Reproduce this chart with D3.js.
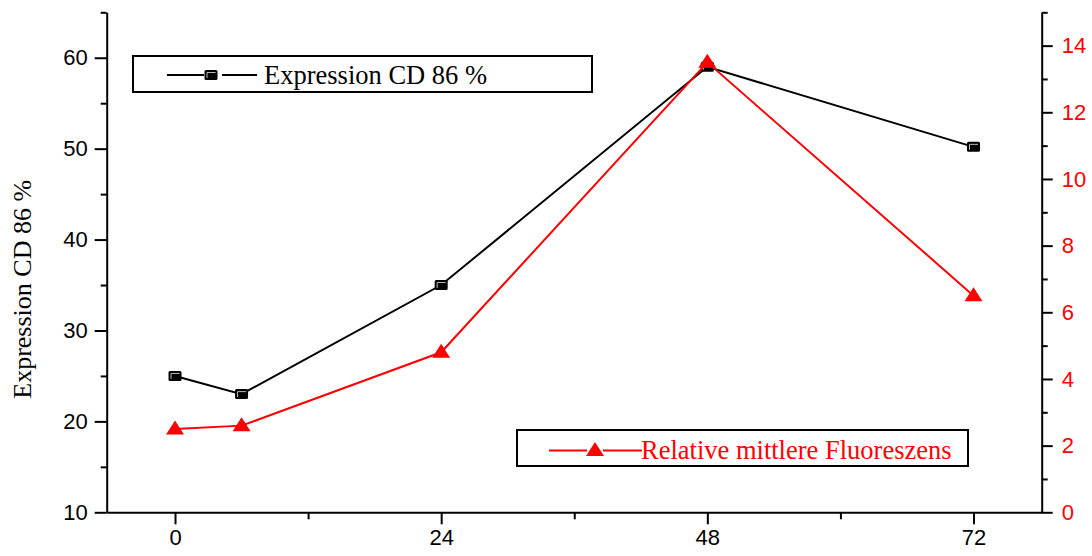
<!DOCTYPE html>
<html>
<head>
<meta charset="utf-8">
<script src="https://cdn.jsdelivr.net/npm/d3@7"></script>
<style>
  html, body { margin: 0; padding: 0; background: #fff; }
  svg { display: block; }
</style>
</head>
<body>
<svg id="chart" width="1092" height="556"></svg>
<script>
// Time points (h)
const hours = [0, 6, 24, 48, 72];
// CD 86 expression (%), left axis
const cd86 = [25.0, 23.0, 35.0, 59.0, 50.2];
// Relative mean fluorescence, right axis
const fluor = [2.5, 2.6, 4.8, 13.5, 6.5];

const xTicks = [0, 24, 48, 72];
const xMinor = [12, 36, 60];
const yLeftTicks = [10, 20, 30, 40, 50, 60];
const yLeftMinor = [15, 25, 35, 45, 55, 65];
const yRightTicks = [0, 2, 4, 6, 8, 10, 12, 14];
const yRightMinor = [1, 3, 5, 7, 9, 11, 13, 15];

const labelLeft = "Expression CD 86 %";
const labelRight = "Relative mittlere Fluoreszens";

const RED = "#ff0000";
const plot = { left: 106.7, right: 1041.7, top: 12.3, bottom: 512.3 };

const svg = d3.select("#chart");

const x = d3.scaleLinear().domain([-6.16, 78.15]).range([plot.left, plot.right]);
const yL = d3.scaleLinear().domain([10, 65]).range([plot.bottom, plot.top]);
const yR = d3.scaleLinear().domain([0, 15]).range([plot.bottom, plot.top]);

function styleAxis(g, color) {
  g.select(".domain").attr("stroke", "#000").attr("stroke-width", 2);
  g.selectAll(".tick line").attr("stroke", "#000").attr("stroke-width", 2);
  g.selectAll(".tick text")
    .attr("fill", color)
    .style("font-family", "'Liberation Sans', Arial, sans-serif")
    .style("font-size", "22px");
}

// x axis
const gx = svg.append("g").attr("transform", `translate(0,${plot.bottom})`)
  .call(d3.axisBottom(x).tickValues(xTicks).tickSize(12).tickSizeOuter(0).tickPadding(5));
styleAxis(gx, "#000");
svg.append("g").attr("transform", `translate(0,${plot.bottom})`)
  .call(d3.axisBottom(x).tickValues(xMinor).tickSize(7).tickSizeOuter(0).tickFormat(""))
  .call(g => { g.select(".domain").remove(); styleAxis(g, "#000"); });

// left axis
const gl = svg.append("g").attr("transform", `translate(${plot.left},0)`)
  .call(d3.axisLeft(yL).tickValues(yLeftTicks).tickSize(12).tickSizeOuter(0).tickPadding(7));
styleAxis(gl, "#000");
svg.append("g").attr("transform", `translate(${plot.left},0)`)
  .call(d3.axisLeft(yL).tickValues(yLeftMinor).tickSize(6).tickSizeOuter(0).tickFormat(""))
  .call(g => { g.select(".domain").remove(); styleAxis(g, "#000"); });

// right axis
const gr = svg.append("g").attr("transform", `translate(${plot.right},0)`)
  .call(d3.axisRight(yR).tickValues(yRightTicks).tickSize(11).tickSizeOuter(0).tickPadding(9));
styleAxis(gr, RED);
svg.append("g").attr("transform", `translate(${plot.right},0)`)
  .call(d3.axisRight(yR).tickValues(yRightMinor).tickSize(6).tickSizeOuter(0).tickFormat(""))
  .call(g => { g.select(".domain").remove(); styleAxis(g, "#000"); });

// left axis title
svg.append("text")
  .attr("transform", `translate(31,${(plot.top + plot.bottom) / 2 + 27}) rotate(-90)`)
  .attr("text-anchor", "middle")
  .style("font-family", "'Liberation Serif', 'Times New Roman', serif")
  .style("font-size", "26px")
  .attr("fill", "#000")
  .text(labelLeft);

// markers
function squareMarker(g, cx, cy) {
  g.append("rect")
    .attr("x", cx - 6.5).attr("y", cy - 5).attr("width", 13).attr("height", 10)
    .attr("rx", 1.5).attr("fill", "#000");
  g.append("path")
    .attr("d", `M${cx - 4},${cy + 3} V${cy - 2.5} H${cx + 4.5}`)
    .attr("fill", "none").attr("stroke", "#bbb").attr("stroke-width", 1);
}
function triangleMarker(g, cx, cy) {
  g.append("path")
    .attr("d", `M${cx},${cy - 8.5} L${cx + 9},${cy + 5.5} L${cx - 9},${cy + 5.5} Z`)
    .attr("fill", RED);
}

const cdData = hours.map((h, i) => ({ h, v: cd86[i] }));
const flData = hours.map((h, i) => ({ h, v: fluor[i] }));

// CD 86 series
svg.append("path").datum(cdData)
  .attr("fill", "none").attr("stroke", "#000").attr("stroke-width", 2)
  .attr("d", d3.line().x(d => x(d.h)).y(d => yL(d.v)));
const gSq = svg.append("g");
cdData.forEach(d => squareMarker(gSq, x(d.h), yL(d.v)));

// fluorescence series
svg.append("path").datum(flData)
  .attr("fill", "none").attr("stroke", RED).attr("stroke-width", 2)
  .attr("d", d3.line().x(d => x(d.h)).y(d => yR(d.v)));
const gTr = svg.append("g");
flData.forEach(d => triangleMarker(gTr, x(d.h), yR(d.v)));

// legends
const serif = "'Liberation Serif', 'Times New Roman', serif";
function legend(box, lineY, seg1, seg2, markerX, textX, textY, color, marker, label) {
  const g = svg.append("g");
  g.append("rect").attr("x", box[0]).attr("y", box[1]).attr("width", box[2]).attr("height", box[3])
    .attr("fill", "#fff").attr("stroke", "#000").attr("stroke-width", 2);
  g.append("line").attr("x1", seg1[0]).attr("x2", seg1[1]).attr("y1", lineY).attr("y2", lineY)
    .attr("stroke", color).attr("stroke-width", 2);
  g.append("line").attr("x1", seg2[0]).attr("x2", seg2[1]).attr("y1", lineY).attr("y2", lineY)
    .attr("stroke", color).attr("stroke-width", 2);
  marker(g, markerX, lineY);
  g.append("text").attr("x", textX).attr("y", textY)
    .style("font-family", serif).style("font-size", "26.5px")
    .attr("fill", color).text(label);
}
legend([133, 56, 459, 36], 75, [167, 204], [222, 257], 211, 264, 84, "#000", squareMarker, labelLeft);
legend([517, 430, 451, 36], 450.5, [549, 587], [603, 642], 595, 641, 459, RED, triangleMarker, labelRight);
</script>
</body>
</html>
